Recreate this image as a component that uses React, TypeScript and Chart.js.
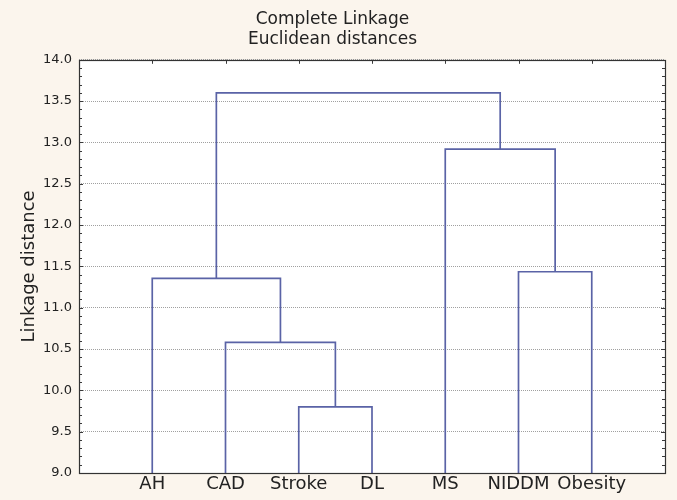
import React, { useEffect, useRef } from "react";
import { Chart, registerables } from "chart.js";

Chart.register(...registerables);

const leaves = ["AH", "CAD", "Stroke", "DL", "MS", "NIDDM", "Obesity"];
// merges: cluster ids (0..6 leaves, 7.. new clusters in order)
const mergeA = [2, 1, 0, 5, 4, 9];
const mergeB = [3, 7, 8, 6, 10, 11];
const mergeHeight = [9.8, 10.58, 11.355, 11.435, 12.92, 13.6];
const yTickValues = [9.0, 9.5, 10.0, 10.5, 11.0, 11.5, 12.0, 12.5, 13.0, 13.5, 14.0];

const Y_MIN = 9.0;
const Y_MAX = 14.0;
const LINE_COLOR = "#5a63a6";
const BG = "#fbf5ed";
const FONT = "DejaVu Sans";

function buildLinks() {
  const pos: { x: number; y: number }[] = leaves.map((_, i) => ({ x: i + 1, y: Y_MIN }));
  const links: { x: number; y: number }[][] = [];
  for (let k = 0; k < mergeA.length; k++) {
    const a = pos[mergeA[k]];
    const b = pos[mergeB[k]];
    const h = mergeHeight[k];
    links.push([
      { x: a.x, y: a.y },
      { x: a.x, y: h },
      { x: b.x, y: h },
      { x: b.x, y: b.y },
    ]);
    pos.push({ x: (a.x + b.x) / 2, y: h });
  }
  return links;
}

const framePlugin = {
  id: "frame",
  beforeDraw(chart: any) {
    const { ctx, chartArea } = chart;
    ctx.save();
    ctx.fillStyle = BG;
    ctx.fillRect(0, 0, chart.width, chart.height);
    ctx.fillStyle = "#ffffff";
    ctx.fillRect(chartArea.left, chartArea.top, chartArea.right - chartArea.left, chartArea.bottom - chartArea.top);
    ctx.restore();
  },
  afterDraw(chart: any) {
    const { ctx, chartArea } = chart;
    const ys = chart.scales.y;
    const xs = chart.scales.x;
    ctx.save();
    ctx.strokeStyle = "#3a3a3a";
    ctx.lineWidth = 1;
    ctx.beginPath();
    for (let i = 0; i <= 50; i++) {
      const v = Y_MIN + i * 0.1;
      const py = Math.round(ys.getPixelForValue(v)) + 0.5;
      const len = i % 5 === 0 ? 4 : 3;
      ctx.moveTo(chartArea.left, py);
      ctx.lineTo(chartArea.left + len, py);
      ctx.moveTo(chartArea.right, py);
      ctx.lineTo(chartArea.right - len, py);
    }
    for (let i = 0; i < leaves.length; i++) {
      const px = Math.round(xs.getPixelForValue(i + 1)) + 0.5;
      ctx.moveTo(px, chartArea.top);
      ctx.lineTo(px, chartArea.top + 4);
    }
    ctx.stroke();
    ctx.strokeStyle = "#333333";
    ctx.lineWidth = 1.2;
    ctx.strokeRect(
      Math.round(chartArea.left) + 0.5,
      Math.round(chartArea.top) + 0.5,
      Math.round(chartArea.right - chartArea.left),
      Math.round(chartArea.bottom - chartArea.top)
    );
    ctx.restore();
  },
};

export default function App() {
  const canvasRef = useRef<HTMLCanvasElement | null>(null);

  useEffect(() => {
    document.body.style.margin = "0";
    document.body.style.background = BG;
    const canvas = canvasRef.current;
    if (!canvas) return;
    const links = buildLinks();
    const chart = new Chart(canvas, {
      type: "scatter",
      data: {
        datasets: links.map((pts, i) => ({
          label: "link" + i,
          data: pts,
          showLine: true,
          borderColor: LINE_COLOR,
          borderWidth: 1.7,
          pointRadius: 0,
          fill: false,
          tension: 0,
        })),
      },
      options: {
        responsive: false,
        animation: false,
        layout: { padding: { left: 0, right: 12, top: 0, bottom: 0 } },
        plugins: {
          legend: { display: false },
          tooltip: { enabled: false },
          title: {
            display: true,
            text: ["Complete Linkage", "Euclidean distances"],
            color: "#222222",
            font: { family: FONT, size: 17, weight: "normal", lineHeight: 1.2 },
            padding: { top: 9, bottom: 10 },
          },
        },
        scales: {
          x: {
            type: "linear",
            min: 0,
            max: 8,
            afterFit: (s: any) => {
              s.height = 27;
            },
            afterBuildTicks: (s: any) => {
              s.ticks = leaves.map((_, i) => ({ value: i + 1 }));
            },
            grid: { display: false, drawTicks: false },
            border: { display: false },
            ticks: {
              autoSkip: false,
              maxRotation: 0,
              padding: 1,
              color: "#222222",
              font: { family: FONT, size: 18 },
              callback: (v: any) => leaves[Number(v) - 1] ?? "",
            },
          },
          y: {
            type: "linear",
            min: Y_MIN,
            max: Y_MAX,
            afterFit: (s: any) => {
              s.width = 79;
            },
            afterBuildTicks: (s: any) => {
              s.ticks = yTickValues.map((v) => ({ value: v }));
            },
            grid: {
              color: "#a0a0a0",
              lineWidth: 1,
              drawTicks: false,
            },
            border: { display: false, dash: [1, 1] },
            ticks: {
              padding: 7,
              color: "#222222",
              font: { family: FONT, size: 13 },
              callback: (v: any) => Number(v).toFixed(1),
            },
            title: {
              display: true,
              text: "Linkage distance",
              color: "#222222",
              font: { family: FONT, size: 18 },
              padding: { top: 19, bottom: 0 },
            },
          },
        },
      },
      plugins: [framePlugin],
    } as any);
    return () => chart.destroy();
  }, []);

  return (
    <div style={{ width: 677, height: 500, background: BG }}>
      <canvas ref={canvasRef} width={677} height={500} />
    </div>
  );
}
